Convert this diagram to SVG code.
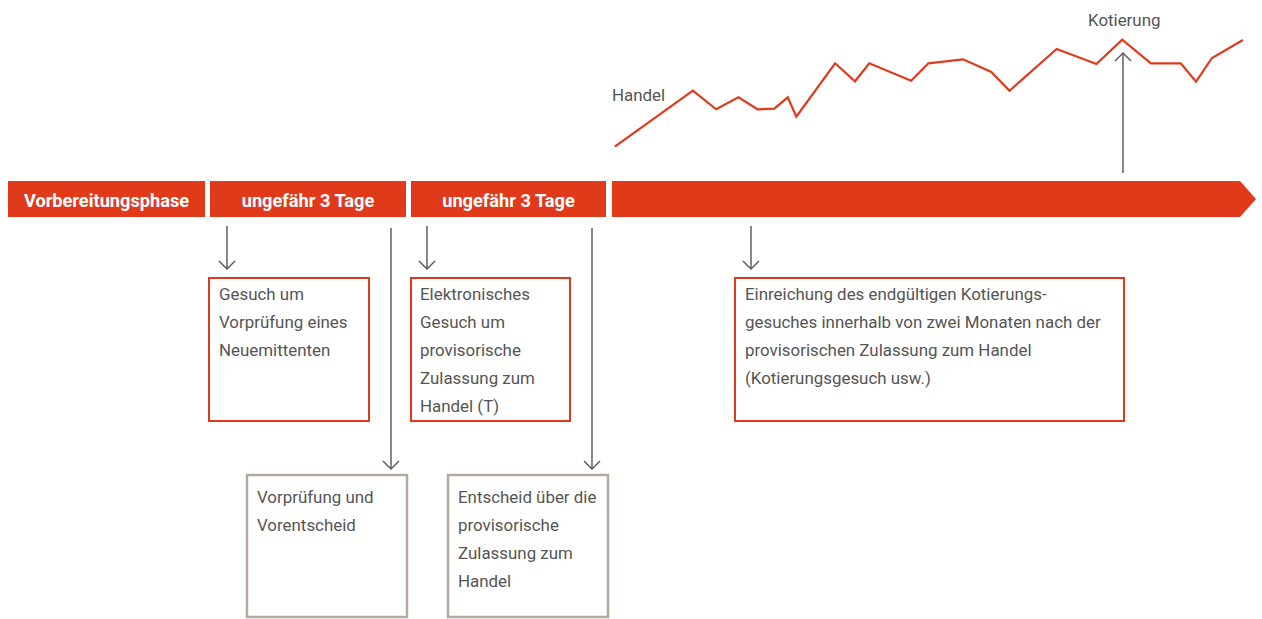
<svg xmlns="http://www.w3.org/2000/svg" width="1262" height="619" viewBox="0 0 1262 619">
<style>
.bar{fill:#e03a1b}
.bl{font-family:Roboto,"Liberation Sans",sans-serif;font-weight:bold;font-size:18.2px;fill:#fff;text-anchor:middle}
.t{font-family:Roboto,"Liberation Sans",sans-serif;font-size:16.9px;fill:#555}
.rb{fill:#fff;stroke:#e03a1b;stroke-width:2}
.gb{fill:#fff;stroke:#b3a99d;stroke-width:2.5}
.c{stroke:#555;stroke-width:1.4;fill:none}
</style>
<defs>
<marker id="ah" viewBox="-9 -9 18 18" markerWidth="18" markerHeight="18" refX="0" refY="0" orient="auto" markerUnits="userSpaceOnUse">
<path d="M-8,-8 L0,0 L-8,8" fill="none" stroke="#555" stroke-width="1.4"/>
</marker>
</defs>
<g id="bars">
<rect class="bar" x="8" y="181" width="197" height="36"/>
<text class="bl" x="106.5" y="206.5">Vorbereitungsphase</text>
<rect class="bar" x="210" y="181" width="196" height="36"/>
<text class="bl" x="308" y="206.5">ungefähr 3 Tage</text>
<rect class="bar" x="411" y="181" width="195" height="36"/>
<text class="bl" x="508.5" y="206.5">ungefähr 3 Tage</text>
<polygon class="bar" points="612,181 1240,181 1256,199 1240,217 612,217"/>
</g>
<g id="chart">
<polyline fill="none" stroke="#e03a1b" stroke-width="2.2" stroke-linejoin="miter" points="614.8,146.7 692.9,90.7 716.1,109.3 738.5,97.3 757.5,109.3 774.3,108.7 787.8,97.3 796.3,116.7 835.1,63.3 855,81.3 869.3,63.3 911.1,80.7 928.4,63.3 963,59.3 991.3,72 1009.5,90.7 1056.7,49 1096.4,64 1122.2,39.7 1150.9,63.3 1180.8,63.3 1196,81.7 1212,58 1242.9,40"/>
<text class="t" x="612" y="101">Handel</text>
<text class="t" x="1088" y="26">Kotierung</text>
</g>
<g id="connectors">
<line class="c" x1="227" y1="226" x2="227" y2="269" marker-end="url(#ah)"/>
<line class="c" x1="391" y1="228" x2="391" y2="469" marker-end="url(#ah)"/>
<line class="c" x1="427" y1="226" x2="427" y2="269" marker-end="url(#ah)"/>
<line class="c" x1="592" y1="228" x2="592" y2="469" marker-end="url(#ah)"/>
<line class="c" x1="751" y1="226" x2="751" y2="269" marker-end="url(#ah)"/>
<line class="c" x1="1123" y1="173" x2="1123" y2="53" marker-end="url(#ah)"/>
</g>
<g id="n1">
<rect class="rb" x="209" y="278" width="160" height="143"/>
<text class="t" x="219" y="300">Gesuch um</text>
<text class="t" x="219" y="328">Vorprüfung eines</text>
<text class="t" x="219" y="356">Neuemittenten</text>
</g>
<g id="n2">
<rect class="rb" x="411" y="278" width="159" height="143"/>
<text class="t" x="420" y="300">Elektronisches</text>
<text class="t" x="420" y="328">Gesuch um</text>
<text class="t" x="420" y="356">provisorische</text>
<text class="t" x="420" y="384">Zulassung zum</text>
<text class="t" x="420" y="412">Handel (T)</text>
</g>
<g id="n3">
<rect class="rb" x="735" y="278" width="389" height="143"/>
<text class="t" x="745" y="300">Einreichung des endgültigen Kotierungs-</text>
<text class="t" x="745" y="328">gesuches innerhalb von zwei Monaten nach der</text>
<text class="t" x="745" y="356">provisorischen Zulassung zum Handel</text>
<text class="t" x="745" y="384">(Kotierungsgesuch usw.)</text>
</g>
<g id="n4">
<rect class="gb" x="247" y="475" width="160" height="142"/>
<text class="t" x="257" y="503">Vorprüfung und</text>
<text class="t" x="257" y="531">Vorentscheid</text>
</g>
<g id="n5">
<rect class="gb" x="448" y="475" width="160" height="142"/>
<text class="t" x="458" y="503">Entscheid über die</text>
<text class="t" x="458" y="531">provisorische</text>
<text class="t" x="458" y="559">Zulassung zum</text>
<text class="t" x="458" y="587">Handel</text>
</g>
</svg>
